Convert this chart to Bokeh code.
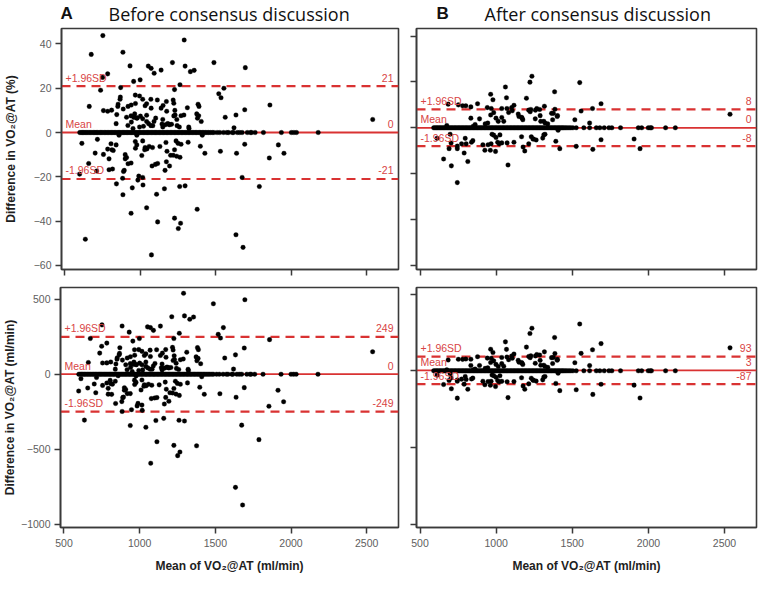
from bokeh.plotting import figure
from bokeh.models import Range1d, FixedTicker, Span
from bokeh.layouts import column, row
from bokeh.embed import file_html
from bokeh.resources import INLINE
from bokeh.core.properties import value

# ---------------- data ----------------
# Panel A (before consensus): mean of VO2@AT (ml/min) and difference (%)
a_mean_nz = [751, 674, 1290, 884, 931, 783, 749, 1052, 1071, 1091, 1137, 1212, 1296, 1331, 1356, 1487, 1695,
             998, 955, 736, 869, 1262, 1226, 1553, 1519, 1534, 661, 755, 783, 809, 850, 867, 865, 852, 843,
             886, 918, 939, 967, 966, 994, 1015, 1031, 1069, 1071, 1112, 1137, 1172, 1217, 1221, 1174, 1228,
             1311, 1382, 1388, 1373, 1386, 1403, 1378, 1562, 1633, 1691, 1858, 2539, 1620, 957, 979, 962,
             1000, 908, 940, 1015, 1041, 1054, 1082, 1020, 994, 1101, 1148, 1180, 1193, 1206, 1230, 1241,
             1269, 1288, 1258, 1320, 1322, 839, 951, 917, 1148, 976, 1041, 1069, 1143, 1165, 1221, 1243,
             1187, 1090, 938, 1150, 1041,
             612, 657, 597, 710, 700, 715, 755, 783, 805, 820, 792, 792, 815, 839, 841, 858, 882, 888, 893,
             899, 908, 918, 938, 899, 884, 946, 938, 967, 966, 976, 976, 989, 983, 1015, 1017, 1015, 1031,
             1028, 1043, 1058, 1041, 1009, 1080, 1077, 1099, 1114, 1107, 1114, 1073, 1129, 1159, 1163, 1176,
             1172, 1193, 1200, 1217, 1226, 1236, 1249, 1262, 1269, 1226, 1251, 1266, 1260, 1296, 1316, 1376,
             1397, 1427, 1410, 1530, 1637, 1674, 1691, 1633, 1680, 1788, 1854, 1914, 1951, 635, 1240, 1169,
             811]
a_pct_nz = [43.8, 35.3, 41.8, 36.3, 30.1, 26.5, 24.9, 30.0, 29.0, 26.8, 28.2, 31.6, 30.0, 27.5, 28.1, 31.6, 29.3,
            23.8, 23.1, 19.1, 20.3, 21.6, 19.4, 20.0, 17.5, 15.7, 11.8, 9.9, 9.6, 10.1, 11.8, 16.0, 15.0, 12.8, 8.1,
            10.6, 11.8, 12.4, 13.1, 16.9, 16.5, 15.0, 12.1, 15.0, 11.0, 14.7, 11.0, 14.0, 14.7, 13.2, 9.6, 10.0,
            11.2, 12.8, 11.8, 8.4, 7.6, 5.0, 6.5, 6.9, 7.9, 10.3, 12.4, 5.9, 2.1, 6.8, 6.6, 8.4,
            7.4, 6.9, 4.7, 6.2, 5.0, 4.0, 3.1, 2.8, 2.5, 6.5, 5.9, 4.0, 3.5, 3.7, 7.9, 5.9,
            7.6, 7.9, 2.5, 2.5, 1.8, 4.0, 1.8, 3.2, 2.5, 6.5, 7.8, 3.1, 3.8, 3.5, 7.5, 3.1,
            3.8, 5.0, 7.5, 12.2, 13.0,
            -4.9, -14.0, -18.8, -17.4, -9.3, -3.1, -9.9, -7.5, -5.1, -8.1, -11.9, -16.8, -16.5, -5.6, -23.2, -1.2,
            -20.7, -17.6, -17.1, -11.9, -11.3, -14.1, -13.8, -10.0, -28.1, -25.0, -36.5, -7.1, -4.1, -1.2, -5.6,
            -19.7, -21.5, -20.3, -23.7, -3.8, -6.8, -7.8, -7.4, -6.3, -34.0, -10.4, -6.8, -15.1, -14.4, -14.0,
            -27.9, -40.4, -55.3, -6.3, -25.4, -17.1, -8.5, -13.2, -15.1, -10.3, -10.3, -7.8, -3.8, -4.9, -11.2,
            -5.3, -38.7, -43.4, -41.0, -24.4, -24.1, -4.4, -34.7, -6.2, -9.4, -1.2, -8.5, -9.4, -20.3, -5.3,
            -46.2, -51.9, -24.4, -11.5, -5.6, -9.4, -48.2, -10.7, -4.5, -7.8]
# subjects with zero difference in panel A (mean of VO2@AT, ml/min)
a_mean_zero = [598, 607, 616, 624, 633, 641, 652, 660, 671, 679, 690, 698, 707, 716, 726, 735, 744, 752, 763,
               771, 780, 790, 799, 808, 817, 826, 834, 845, 853, 862, 871, 880, 889, 897, 906, 915, 924, 933,
               941, 950, 958, 967, 976, 985, 993, 1002, 1011, 1020, 1029, 1038, 1046, 1055, 1064, 1073, 1082,
               1091, 1099, 1108, 1117, 1126, 1135, 1144, 1153, 1162, 1171, 1180, 1189, 1198, 1207, 1216, 1225,
               1234, 1243, 1252, 1262, 1271, 1280, 1289, 1298, 1308, 1317, 1326, 1335, 1344, 1354, 1363, 1372,
               1382, 1391, 1400, 1410, 1420, 1430, 1441, 1452, 1463, 1476, 1487, 1508, 1526, 1551, 1573, 1584,
               1609, 1616, 1642, 1658, 1674, 1708, 1729, 1736, 1760, 1815, 1934, 2000, 2017, 2034, 2178]

# Panel B (after consensus)
b_mean_nz = [1235, 1222, 1549, 1061, 1384, 964, 979, 1068, 1199, 1117, 1102, 878, 685, 752, 780, 801, 834, 942,
             968, 1037, 1071, 1082, 1106, 1228, 1258, 1286, 1317, 1376, 1386, 1403, 1558, 1633, 1689, 1517,
             1614, 2536, 676, 834, 891, 964, 984, 999, 1014, 1037, 1050, 1145, 1167, 1175, 1257, 1289, 1321,
             1313, 1339, 945, 928, 862, 850, 1364, 1401, 1371, 1267, 1224, 1214, 1171, 1150, 1293,
             612, 698, 704, 691, 655, 706, 745, 745, 773, 790, 803, 814, 745, 847, 838, 913, 926, 947, 962,
             996, 967, 984, 1010, 1020, 1037, 1025, 999, 973, 1072, 1078, 1117, 1167, 1177, 1188, 1214, 1231,
             1246, 1263, 1306, 1313, 1392, 1418, 1526, 1635, 1689, 1906, 1945, 1407, 1242, 1321, 797]
b_pct_nz = [22.5, 19.9, 19.7, 17.8, 15.7, 14.6, 12.2, 13.1, 12.9, 9.8, 8.8, 10.5, 10.3, 10.0, 9.6, 9.6, 9.1, 8.8,
            8.4, 8.4, 8.4, 6.7, 7.4, 8.0, 7.7, 8.0, 9.4, 6.3, 8.1, 5.3, 7.3, 8.4, 10.5, 3.5,
            2.1, 5.9, 1.0, 4.2, 3.9, 5.6, 6.6, 4.2, 2.8, 4.5, 2.8, 6.0, 4.6, 3.5, 3.9, 5.3, 2.1,
            2.8, 1.7, 2.1, 1.7, 1.4, 0.7, 6.3, 4.9, 3.5, 8.4, 7.0, 7.7, 4.2, 4.9, 2.8,
            -4.6, -2.8, -6.6, -9.1, -13.6, -16.6, -9.1, -8.0, -7.0, -11.0, -7.0, -14.7, -23.9, -5.6, -6.3,
            -7.4, -9.8, -7.4, -9.8, -10.3, -7.0, -3.2, -6.3, -7.0, -6.6, -3.1, -4.2, -2.8, -6.6, -16.2, -6.3,
            -3.9, -8.4, -10.1, -7.0, -3.9, -4.9, -5.3, -4.5, -3.1, -5.9, -9.1, -8.1, -9.4, -5.2, -4.9, -9.1,
            -1.1, -4.9, -2.8, -4.6]
b_mean_zero = [590, 599, 608, 617, 626, 635, 644, 653, 662, 671, 680, 689, 698, 707, 716, 725, 734, 743, 752,
               761, 770, 779, 788, 797, 806, 815, 824, 833, 842, 851, 860, 869, 878, 887, 896, 905, 914, 923,
               932, 941, 950, 959, 968, 977, 986, 995, 1004, 1013, 1022, 1031, 1040, 1049, 1058, 1067, 1076,
               1085, 1094, 1103, 1112, 1121, 1130, 1139, 1148, 1157, 1166, 1175, 1184, 1193, 1202, 1211, 1220,
               1229, 1238, 1247, 1256, 1265, 1274, 1283, 1292, 1301, 1310, 1319, 1328, 1337, 1346, 1355, 1364,
               1373, 1382, 1391, 1400, 1409, 1418, 1427, 1436, 1445, 1455, 1466, 1478, 1490, 1504, 1526, 1576,
               1614, 1658, 1681, 1710, 1741, 1760, 1817, 1934, 1956, 1999, 2012, 2020, 2113, 2177]

# difference in ml/min = difference (%) x mean / 100
a_ml_nz = [p * m / 100.0 for p, m in zip(a_pct_nz, a_mean_nz)]
b_ml_nz = [p * m / 100.0 for p, m in zip(b_pct_nz, b_mean_nz)]

# limits of agreement (upper, mean, lower)
a_pct_loa = [21, 0, -21]
a_ml_loa = [249, 0, -249]
b_pct_loa = [8, 0, -8]
b_ml_loa = [93, 3, -87]
loa_names = ["+1.96SD", "Mean", "-1.96SD"]

x_ticks = [500, 1000, 1500, 2000, 2500]
pct_ticks = [-60, -40, -20, 0, 20, 40]
ml_ticks = [-1000, -500, 0, 500]

panel_letters = ["A", "B"]
panel_titles = ["Before consensus discussion", "After consensus discussion"]

# ---------------- styles ----------------
FRAME = "#3a3a3a"
RED = "#d93232"
RED_TXT = "#d84444"
TICK_TXT = "#5e5e5e"
FONT = "Liberation Sans"


def panel(xs_nz, ys_nz, xs_zero, loa, xr, yr, yticks, width, height, borders,
          xlabels, ylabels, ylabel="", ylabel_standoff=1, xlabel=""):
    p = figure(width=width, height=height, x_range=Range1d(*xr), y_range=Range1d(*yr),
               toolbar_location=None, output_backend="svg", title=None,
               min_border_left=borders[0], min_border_right=borders[1],
               min_border_top=borders[2], min_border_bottom=borders[3])
    p.grid.visible = False
    p.outline_line_color = FRAME
    p.outline_line_width = 1.6
    p.background_fill_color = "white"
    p.border_fill_color = "white"
    for ax in (p.xaxis[0], p.yaxis[0]):
        ax.axis_line_color = FRAME
        ax.axis_line_width = 1.6
        ax.major_tick_line_color = FRAME
        ax.major_tick_line_width = 1.5
        ax.major_tick_out = 6
        ax.major_tick_in = 0
        ax.minor_tick_line_color = None
        ax.major_label_text_font = FONT
        ax.major_label_text_font_size = "10.5px"
        ax.major_label_text_color = TICK_TXT
        ax.axis_label_text_font = FONT
        ax.axis_label_text_font_size = "12px"
        ax.axis_label_text_font_style = "bold"
        ax.axis_label_text_color = "#1e1e1e"
    p.xaxis[0].ticker = FixedTicker(ticks=x_ticks)
    p.yaxis[0].ticker = FixedTicker(ticks=yticks)
    p.xaxis[0].major_label_standoff = 5
    p.yaxis[0].major_label_standoff = 4
    if not xlabels:
        p.xaxis[0].major_label_text_color = None
        p.xaxis[0].major_label_text_font_size = "1px"
        p.xaxis[0].major_label_standoff = 0
    else:
        p.xaxis[0].axis_label = xlabel
        p.xaxis[0].axis_label_standoff = 9
    if not ylabels:
        p.yaxis[0].major_label_text_color = None
        p.yaxis[0].major_label_text_font_size = "1px"
        p.yaxis[0].major_label_standoff = 0
    else:
        p.yaxis[0].axis_label = ylabel
        p.yaxis[0].axis_label_standoff = ylabel_standoff

    # limits of agreement and mean
    for v, dash in zip(loa, ["9 6", "solid", "9 6"]):
        p.add_layout(Span(location=v, dimension="width", line_color=RED,
                          line_width=2.2 if dash != "solid" else 1.8,
                          line_dash=dash, level="underlay"))

    xs = list(xs_nz) + list(xs_zero)
    ys = list(ys_nz) + [0] * len(xs_zero)
    p.scatter(xs, ys, size=4.6, fill_color="black", line_color="black", line_width=0.3)

    p.text(x=[xr[0]] * 3, y=loa, text=loa_names, text_align="left", text_baseline="middle",
           x_offset=4, y_offset=-8.5, text_font=value(FONT), text_font_size=value("10.5px"),
           text_color=RED_TXT)
    p.text(x=[xr[1]] * 3, y=loa, text=[str(v) for v in loa], text_align="right",
           text_baseline="middle", x_offset=-5, y_offset=-8.5, text_font=value(FONT),
           text_font_size=value("10.5px"), text_color=RED_TXT)
    return p


XR = (477, 2710)
A_PCT_YR = (-61.9, 47.0)
B_PCT_YR = (-61.8, 43.3)
A_ML_YR = (-1022, 578)
B_ML_YR = (-1021, 543)

LW, RW = 406, 354
STRIP_H = 26
TH, BH = 255, 294

a_top = panel(a_mean_nz, a_pct_nz, a_mean_zero, a_pct_loa, XR, A_PCT_YR, pct_ticks, LW, TH,
              (58, 8, 2, 12), False, True, ylabel="Difference in VO\u2082@AT (%)", ylabel_standoff=13)
b_top = panel(b_mean_nz, b_pct_nz, b_mean_zero, b_pct_loa, XR, B_PCT_YR, pct_ticks, RW, TH,
              (10, 4, 2, 12), False, False)
a_bot = panel(a_mean_nz, a_ml_nz, a_mean_zero, a_ml_loa, XR, A_ML_YR, ml_ticks, LW, BH,
              (58, 8, 6, 47), True, True, ylabel="Difference in VO\u2082@AT (ml/min)", ylabel_standoff=1,
              xlabel="Mean of VO\u2082@AT (ml/min)")
b_bot = panel(b_mean_nz, b_ml_nz, b_mean_zero, b_ml_loa, XR, B_ML_YR, ml_ticks, RW, BH,
              (10, 4, 6, 47), True, False, xlabel="Mean of VO\u2082@AT (ml/min)")

# heading strip (panel letters and titles)
t = figure(width=LW + RW, height=STRIP_H, x_range=Range1d(0, LW + RW), y_range=Range1d(0, STRIP_H),
           toolbar_location=None, output_backend="svg", min_border=0, title=None,
           x_axis_location=None, y_axis_location=None)
t.grid.visible = False
t.outline_line_color = None
t.text(x=[60, 436], y=[13, 13], text=panel_letters, text_font=value(FONT), text_font_style="bold",
       text_font_size=value("17px"), text_color="#111111", text_baseline="middle")
t.text(x=[108, 484], y=[13, 13], text=panel_titles,
       text_font=value("Open Sans"), text_font_size=value("18px"), text_color="#111111",
       text_baseline="middle")

layout = column(t, row(a_top, b_top), row(a_bot, b_bot))

open("out.html", "w").write(file_html(layout, INLINE))
